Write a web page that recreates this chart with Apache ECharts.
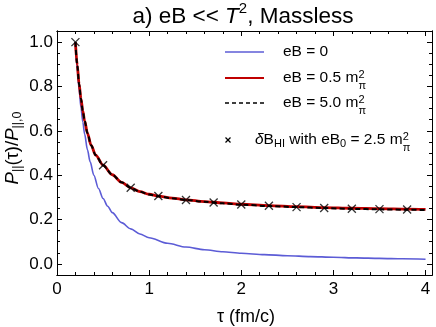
<!DOCTYPE html>
<html><head><meta charset="utf-8">
<script src="https://cdn.jsdelivr.net/npm/echarts@6/dist/echarts.min.js"></script>
<style>html,body{margin:0;padding:0;background:#fff}#c{width:436px;height:327px}</style>
</head><body><div id="c"></div>
<script>
// ---- data ----
const tauBlue = [0.2,0.22,0.24,0.26,0.28,0.3,0.33,0.36,0.4,0.45,0.5,0.55,0.6,0.7,0.8,0.9,1.0,1.2,1.4,1.6,1.8,2.0,2.25,2.5,2.75,3.0,3.25,3.5,3.75,4.0];
const pBlue   = [1.0,0.88,0.785,0.705,0.64,0.585,0.515,0.46,0.40,0.34,0.295,0.26,0.231,0.186,0.158,0.135,0.118,0.093,0.076,0.064,0.055,0.048,0.042,0.037,0.033,0.030,0.027,0.025,0.023,0.021];
const tauRed  = [0.2,0.22,0.24,0.26,0.28,0.3,0.33,0.37,0.42,0.5,0.6,0.7,0.8,0.9,1.0,1.1,1.25,1.4,1.6,1.8,2.0,2.3,2.6,2.9,3.2,3.5,3.8,4.0];
const pRed    = [1.0,0.895,0.81,0.745,0.69,0.645,0.59,0.535,0.49,0.445,0.402,0.368,0.343,0.326,0.314,0.306,0.297,0.289,0.281,0.275,0.269,0.263,0.258,0.254,0.251,0.249,0.247,0.246];
const pBlack  = [1.0,0.895,0.81,0.745,0.69,0.645,0.59,0.535,0.49,0.445,0.402,0.368,0.343,0.325,0.313,0.305,0.296,0.288,0.280,0.273,0.267,0.261,0.256,0.252,0.248,0.246,0.244,0.243];
const tauHI   = [0.2,0.5,0.8,1.1,1.4,1.7,2.0,2.3,2.6,2.9,3.2,3.5,3.8];
const pHI     = [1.0,0.445,0.343,0.306,0.288,0.277,0.268,0.262,0.256,0.252,0.249,0.247,0.245];
const xTicks  = [0,1,2,3,4];
const yTicks  = [0,0.2,0.4,0.6,0.8,1.0];
const xMinor  = [0.2,0.4,0.6,0.8,1.2,1.4,1.6,1.8,2.2,2.4,2.6,2.8,3.2,3.4,3.6,3.8,4.0];
const yMinor  = [-0.05,0.05,0.1,0.15,0.25,0.3,0.35,0.45,0.5,0.55,0.65,0.7,0.75,0.85,0.9,0.95,1.05];

const zip = (a,b) => a.map((v,i)=>[v,b[i]]);
const FF = '"Liberation Sans", Arial, sans-serif';
const ctx = document.createElement('canvas').getContext('2d');

function richGroup(pieces, x, y, rotation, center) {
  let cx = 0; const els = []; let held = 0;
  for (const p of pieces) {
    const font = (p.it ? 'italic ' : '') + p.s + 'px ' + FF;
    ctx.font = font;
    const w = ctx.measureText(p.t).width;
    els.push({type:'text', x: cx, y: p.dy || 0,
      style:{text:p.t, font:font, fill:'#000', textVerticalAlign:'middle', textAlign:'left'}});
    if (p.hold) { held = w; } else { cx += Math.max(w, held); held = 0; }
  }
  if (center) els.forEach(e => e.x -= cx/2);
  return {type:'group', x:x, y:y, rotation:rotation||0, children:els, silent:true};
}

const X0 = 0, X1 = 4.07, Y0 = -0.05, Y1 = 1.05;
function xAx(pos, ticks, len, labels) {
  return {type:'value', position:pos, min:X0, max:X1, splitLine:{show:false},
    axisLine:{show:true, onZero:false, lineStyle:{color:'#000', width:1}},
    axisTick:{show:true, inside:true, length:len, customValues:ticks, lineStyle:{color:'#000'}},
    axisLabel:labels ? {show:true, customValues:xTicks, margin:6, color:'#000', fontSize:17, fontFamily:FF,
      formatter:v=>String(Math.round(v))} : {show:false}};
}
function yAx(pos, ticks, len, labels) {
  return {type:'value', position:pos, min:Y0, max:Y1, splitLine:{show:false},
    axisLine:{show:true, onZero:false, lineStyle:{color:'#000', width:1}},
    axisTick:{show:true, inside:true, length:len, customValues:ticks, lineStyle:{color:'#000'}},
    axisLabel:labels ? {show:true, customValues:yTicks, margin:4, color:'#000', fontSize:17, fontFamily:FF,
      formatter:v=>v.toFixed(1)} : {show:false}};
}

const chart = echarts.init(document.getElementById('c'), null, {renderer:'canvas'});
const sup = (t)=>({t:t, s:11, dy:-3, hold:true});
const sub = (t)=>({t:t, s:11, dy:8});
chart.setOption({
  animation:false,
  grid:{left:57, right:4, top:31, bottom:52, containLabel:false},
  xAxis:[xAx('bottom', xTicks, 5, true), xAx('bottom', xMinor, 3, false), xAx('top', xTicks, 5, false), xAx('top', xMinor, 3, false)],
  yAxis:[yAx('left', yTicks, 5, true), yAx('left', yMinor, 3, false), yAx('right', yTicks, 5, false), yAx('right', yMinor, 3, false)],
  series:[
    {type:'line', data:zip(tauBlue,pBlue), showSymbol:false, smooth:0.3, smoothMonotone:'x',
      lineStyle:{color:'#5c5cd6', width:1.6}, z:2},
    {type:'line', data:zip(tauRed,pRed), showSymbol:false, smooth:0.3, smoothMonotone:'x',
      lineStyle:{color:'#c00000', width:2.8}, z:3},
    {type:'line', data:zip(tauRed,pBlack), showSymbol:false, smooth:0.3, smoothMonotone:'x',
      lineStyle:{color:'#000', width:2, type:[5,3]}, z:4},
    {type:'scatter', data:zip(tauHI,pHI), symbol:'path://M0 0L10 10M10 0L0 10', symbolSize:8,
      itemStyle:{color:'none', borderColor:'#000', borderWidth:1.3}, z:5}
  ],
  graphic:[
    richGroup([{t:'a) eB << ',s:22.5},{t:'T',s:22.5,it:true},{t:'2',s:15,dy:-8},{t:', Massless',s:22.5}], 243, 17, 0, true),
    richGroup([{t:'τ (fm/c)',s:18}], 246, 317, 0, true),
    richGroup([{t:'P',s:18.5,it:true},{t:'||',s:12.5,dy:5},{t:'(τ)/',s:18.5},{t:'P',s:18.5,it:true},{t:'||,0',s:12.5,dy:5}], 13, 148, Math.PI/2, true),
    // legend
    {type:'line', shape:{x1:225,y1:52,x2:264,y2:52}, style:{stroke:'#5c5cd6', lineWidth:1.6}},
    richGroup([{t:'eB = 0',s:15.5}], 283, 52, 0, false),
    {type:'line', shape:{x1:225,y1:78,x2:264,y2:78}, style:{stroke:'#c00000', lineWidth:2.2}},
    richGroup([{t:'eB = 0.5 m',s:15.5}, sup('2'), sub('π')], 283, 78, 0, false),
    {type:'line', shape:{x1:225,y1:103,x2:264,y2:103}, style:{stroke:'#000', lineWidth:1.6, lineDash:[4,3]}},
    richGroup([{t:'eB = 5.0 m',s:15.5}, sup('2'), sub('π')], 283, 103, 0, false),
    {type:'line', shape:{x1:225.5,y1:137.5,x2:230.5,y2:142.5}, style:{stroke:'#000', lineWidth:1.2}},
    {type:'line', shape:{x1:230.5,y1:137.5,x2:225.5,y2:142.5}, style:{stroke:'#000', lineWidth:1.2}},
    richGroup([{t:'δ',s:15.5,it:true},{t:'B',s:15.5},{t:'HI',s:11,dy:4},{t:' with eB',s:15.5},{t:'0',s:11,dy:4},{t:' = 2.5 m',s:15.5}, sup('2'), sub('π')], 255, 140, 0, false)
  ]
});
</script></body></html>
